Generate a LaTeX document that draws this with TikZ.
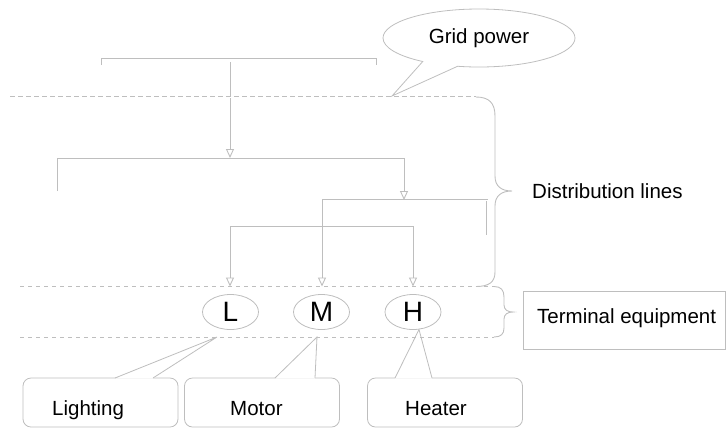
\documentclass[tikz,border=0pt]{standalone}
\usepackage{fontspec}
\setmainfont{Liberation Sans}
\usetikzlibrary{arrows.meta,shapes.geometric,shapes.callouts}
\definecolor{linegray}{RGB}{190,190,190}
\begin{document}
\begin{tikzpicture}[x=1bp,y=-1bp,
  wire/.style={draw=linegray, line width=0.9bp},
  feed/.style={wire, -{Triangle[open,length=9bp,width=8bp]}},
  twin/.style={draw=linegray, double=white, double distance=0.9bp, line width=0.9bp},
  band/.style={draw=linegray, line width=1bp, dash pattern=on 4bp off 4bp},
  hollowband/.style={draw=linegray, double=white, double distance=0.8bp, line width=0.6bp, dash pattern=on 5bp off 3bp},
  brace/.style={draw=linegray, line width=0.9bp},
  load/.style={ellipse, draw=linegray, line width=0.8bp, minimum width=56bp, minimum height=35bp,
    inner sep=0pt, font=\fontsize{28bp}{30bp}\selectfont},
  tagbox/.style={draw=linegray, rounded corners=8bp, line width=0.8bp, minimum width=155bp, minimum height=49bp},
  lbl/.style={font=\fontsize{20.5bp}{24bp}\selectfont, inner sep=0pt, anchor=base west},
]
\useasboundingbox (0,0) rectangle (726,429);

% grid supply callout
\node[ellipse callout, draw=linegray, line width=0.8bp, minimum width=192bp, minimum height=58bp,
  inner sep=0pt, callout absolute pointer={(392,96)}, callout pointer arc=23,
  font=\fontsize{20.5bp}{24bp}\selectfont] (grid) at (479,38) {Grid power};

% supply bus
\coordinate (busL) at (101,65);
\coordinate (busR) at (376,65);
\draw[wire] (busL) -- (101,58) -- (376,58) -- (busR);

% junction points of the distribution tree
\coordinate (feedtop) at (230,62);
\coordinate (j1) at (230,158);
\coordinate (j1L) at (57,191);
\coordinate (j1R) at (404,158);
\coordinate (j2) at (404,200);
\coordinate (j2L) at (322,200);
\coordinate (j2R) at (487,235);
\coordinate (j3L) at (230,226);
\coordinate (j3R) at (413,226);
\coordinate (inL) at (230,286.5);
\coordinate (inM) at (322,286.5);
\coordinate (inH) at (413,286.5);

\draw[feed] (feedtop) -- (j1);
\draw[wire] (j1L) -- (57,158) -- (j1R);
\draw[twin] (j2L) -- (487,200) -- (j2R);
\draw[feed] (j1R) -- (j2);
\draw[feed] (j2L) -- (inM);
\draw[wire] (j3L) -- (j3R);
\draw[feed] (j3L) -- (inL);
\draw[feed] (j3R) -- (inH);

% equipment callouts
\node[tagbox] (light) at (100.5,402.5) {};
\node[tagbox] (motor) at (262,402.5) {};
\node[tagbox] (heater) at (445,402.5) {};

\coordinate (tipL) at (217,337);
\coordinate (tipM) at (317,337);
\coordinate (tipH) at (419,329.5);

\fill[white] (115,378.7) -- (tipL) -- (153,378.7) -- cycle;
\draw[wire, line width=0.8bp] (115,378) -- (tipL) -- (153,378);
\fill[white] (275,378.7) -- (tipM) -- (315,378.7) -- cycle;
\draw[wire, line width=0.8bp] (275,378) -- (tipM) -- (315,378);
\fill[white] (395,378.7) -- (tipH) -- (432,378.7) -- cycle;
\draw[wire, line width=0.8bp] (395,378) -- (tipH) -- (432,378);

\node[lbl] (lighttxt) at (52,415) {Lighting};
\node[lbl] (motortxt) at (230,415) {Motor};
\node[lbl] (heatertxt) at (405,415) {Heater};

% level bands
\draw[hollowband] (10,97) -- (476,97);
\draw[band] (20,286.5) -- (494,286.5);
\draw[band] (20,337) -- (494,337);

% brace of the distribution band
\draw[brace] (476,97) .. controls (489,97) and (495,103) .. (495,116) -- (495,176)
  .. controls (495,186) and (501,191) .. (512,191)
  .. controls (501,191) and (495,196) .. (495,206) -- (495,272)
  .. controls (495,282) and (489,286.5) .. (476,286.5);

% brace of the equipment band
\draw[brace] (494,286.5) .. controls (501,286.5) and (504,290) .. (504,297) -- (504,305)
  .. controls (504,310) and (508,312) .. (513,312)
  .. controls (508,312) and (504,314) .. (504,319) -- (504,328)
  .. controls (504,334) and (501,337) .. (494,337);

% loads
\node[load] (L) at (230.5,312) {L};
\node[load] (M) at (321.5,312) {M};
\node[load] (H) at (413,312) {H};

% band labels
\node[lbl] (distlbl) at (532,198) {Distribution lines};
\node[draw=linegray, line width=0.8bp, minimum width=202bp, minimum height=58bp, inner sep=0pt] (term) at (624,320) {};
\node[lbl] (termlbl) at (537,323) {Terminal equipment};
\end{tikzpicture}
\end{document}
